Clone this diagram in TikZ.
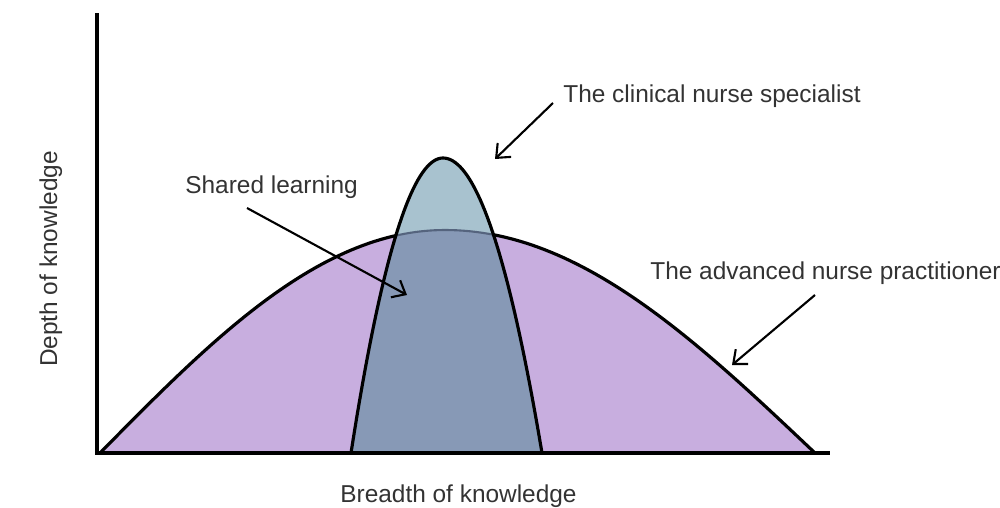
\documentclass[tikz,border=0pt]{standalone}
\usepackage{fontspec}
\setmainfont{Liberation Sans}
\usetikzlibrary{arrows.meta}
\definecolor{anpfill}{HTML}{C8AEDF}
\definecolor{cnsfill}{HTML}{A8C2CF}
\definecolor{sharedfill}{HTML}{8799B6}
\definecolor{sharedline}{HTML}{55647E}
\definecolor{labeltext}{HTML}{333333}

\begin{document}
\begin{tikzpicture}[x=0.02cm,y=-0.02cm,
	curve/.style={line width=1.8pt,line join=round},
	pointer/.style={-{Straight Barb[length=6.5pt,width=11pt]},line width=1.2pt},
	lbl/.style={text=labeltext,inner sep=0pt,font=\fontsize{13.9}{16}\selectfont}]

			\useasboundingbox (0,0) rectangle (1000,507);

			\def\anpcurve{plot[domain=0:1,samples=60] ({100+345*\x},{453-223*sin(90*\x)}) -- plot[domain=1:0,samples=60] ({815-370*\x},{453-223*sin(90*\x)})}
			\def\cnscurve{plot[domain=-1:1,samples=81] ({443+(\x<0 ? 92 : 99)*\x},{453-295*(1-\x*\x)})}

			\fill[anpfill] \anpcurve -- cycle;
			\draw[curve] \anpcurve;

			\fill[cnsfill] \cnscurve -- cycle;
			\begin{scope}
				\clip \cnscurve -- cycle;
				\fill[sharedfill] \anpcurve -- cycle;
				\draw[curve,sharedline,line width=1.2pt] \anpcurve;
			\end{scope}
			\draw[curve] \cnscurve;

			\draw[line width=1.8pt] (97,13) -- (97,453) -- (830,453);

			\node[lbl,anchor=base west] (cns) at (563,102) {The clinical nurse specialist};
			\node[lbl,anchor=base west] (shared) at (185,193) {Shared learning};
			\node[lbl,anchor=base west] (anp) at (650,279) {The advanced nurse practitioner};
			\node[lbl,anchor=base west] (breadth) at (340,502) {Breadth of knowledge};
			\node[lbl,anchor=base,rotate=90] (depth) at (57,259) {Depth of knowledge};

			\coordinate (cnstip) at (495,159);
			\coordinate (sharedtip) at (407,295);
			\coordinate (anptip) at (732,365);

			\draw[pointer] ([shift={(-10,1)}]cns.base west) -- (cnstip);
			\draw[pointer] ([shift={(62,15)}]shared.base west) -- (sharedtip);
			\draw[pointer] ([shift={(165,16)}]anp.base west) -- (anptip);

\end{tikzpicture}
\end{document}
